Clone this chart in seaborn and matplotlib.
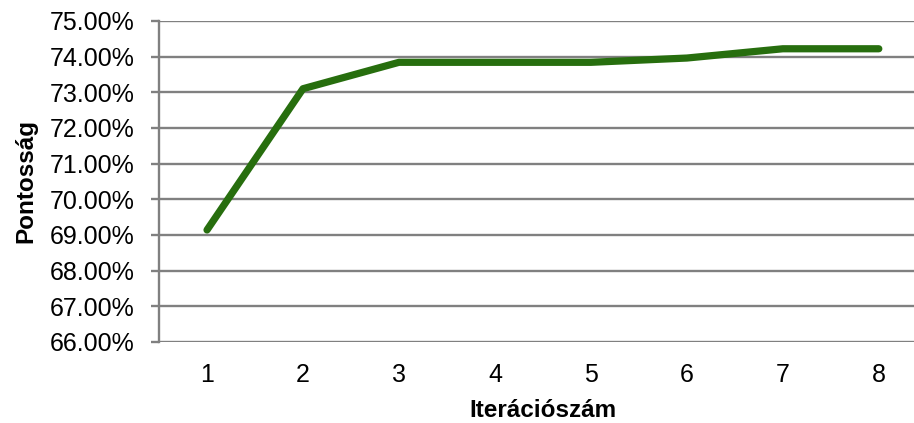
import matplotlib
matplotlib.use("Agg")
import matplotlib.pyplot as plt
import seaborn as sns
import pandas as pd
from matplotlib.ticker import FuncFormatter

# Accuracy per iteration
iterations = [1, 2, 3, 4, 5, 6, 7, 8]
accuracy = [69.14, 73.10, 73.84, 73.84, 73.84, 73.96, 74.22, 74.22]
y_ticks = [66, 67, 68, 69, 70, 71, 72, 73, 74, 75]

sns.set_style("white")
plt.rcParams["font.family"] = ["Liberation Sans", "DejaVu Sans"]
plt.rcParams["text.color"] = "black"
plt.rcParams["axes.labelcolor"] = "black"
plt.rcParams["xtick.color"] = "black"
plt.rcParams["ytick.color"] = "black"

df = pd.DataFrame({"Iterációszám": iterations, "Pontosság": accuracy})

fig = plt.figure(figsize=(9.14, 4.23), dpi=100)
ax = fig.add_axes([0.174, 0.1915, 0.840, 0.759])

grid_color = "#808080"
for t in y_ticks:
    ax.axhline(t, color=grid_color, lw=1.7, zorder=1)

sns.lineplot(data=df, x="Iterációszám", y="Pontosság", ax=ax,
             color="#276E0E", lw=5.2, solid_capstyle="round",
             solid_joinstyle="round", zorder=3)

ax.set_xlim(0.5, 8.5)
ax.set_ylim(66, 75)
ax.set_xticks(iterations)
ax.set_xticklabels([str(i) for i in iterations])
ax.set_yticks(y_ticks)
ax.yaxis.set_major_formatter(FuncFormatter(lambda v, p: f"{v:.2f}%"))

for side in ["top", "right", "bottom"]:
    ax.spines[side].set_visible(False)
ax.spines["left"].set_color(grid_color)
ax.spines["left"].set_linewidth(1.7)

ax.tick_params(axis="y", which="major", length=5.5, width=1.7,
               color=grid_color, labelcolor="black", pad=12, labelsize=18,
               left=True)
ax.tick_params(axis="x", which="major", length=0, pad=15, labelsize=18,
               labelcolor="black")

ax.set_xlabel("Iterációszám", fontsize=17.5, fontweight="bold", labelpad=9)
ax.set_ylabel("Pontosság", fontsize=17.5, fontweight="bold", labelpad=9)

fig.savefig("out.png", dpi=100)
